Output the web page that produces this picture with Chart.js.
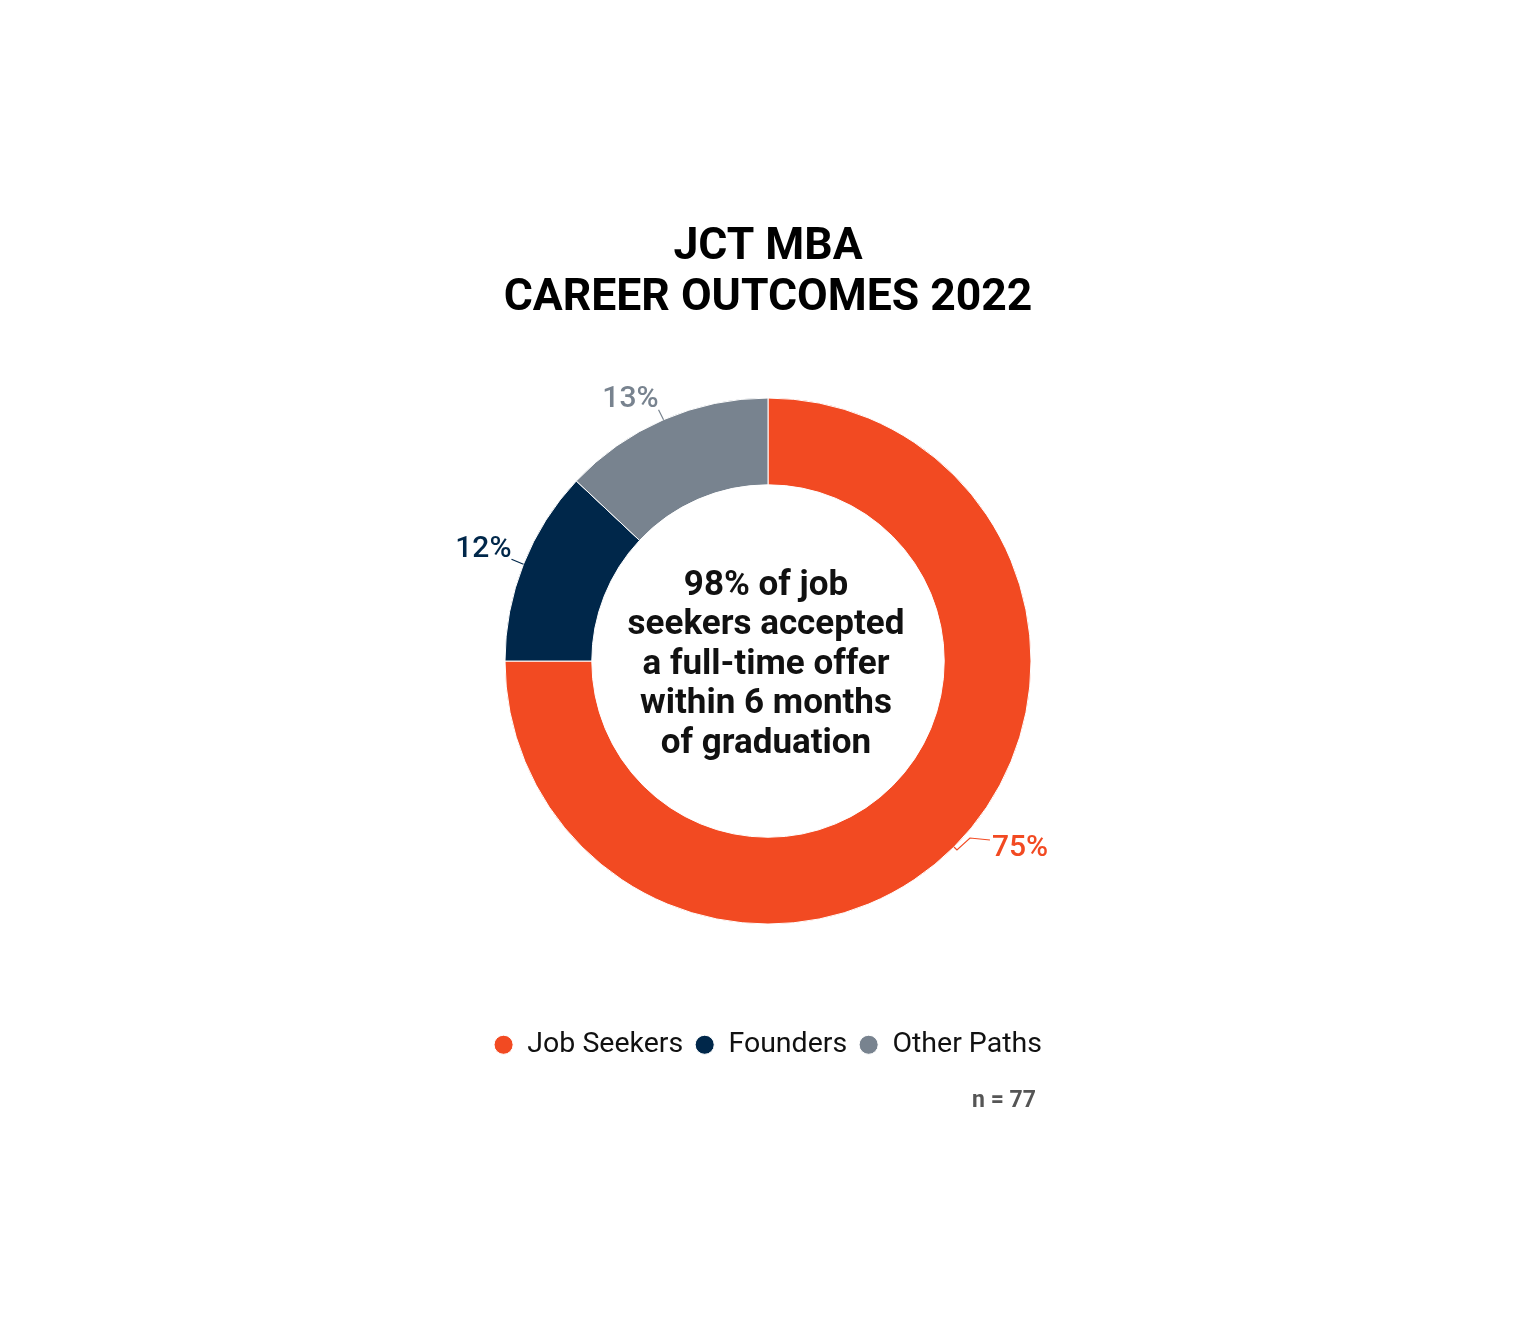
<!DOCTYPE html>
<html lang="en">
<head>
    <meta charset="UTF-8">
    <title>JCT MBA Career Outcomes 2022</title>
    <script src="https://cdn.jsdelivr.net/npm/chart.js@4/dist/chart.umd.min.js"></script>
    <style>
        html, body { margin: 0; padding: 0; background: #fff; }
        #wrap { width: 1536px; height: 1340px; }
    </style>
</head>
<body>
    <div id="wrap"><canvas id="myChart" width="1536" height="1340"></canvas></div>
    <script>
        // data
        const categories = ['Job Seekers', 'Founders', 'Other Paths'];
        const shares = [75, 12, 13];
        const sliceColors = ['#F24A22', '#00274A', '#78838F'];
        const titleLines = ['JCT MBA', 'CAREER OUTCOMES 2022'];
        const centerLines = ['98% of job', 'seekers accepted', 'a full-time offer', 'within 6 months', 'of graduation'];
        const sampleNote = 'n = 77';

        const FONT = 'Roboto, "DejaVu Sans", sans-serif';

        // leader line + label placement per slice (relative to outer edge at mid angle)
        const labelStyle = [
            { path: [[0, 0], [3, 3], [16, -9], [36, -7]], tx: 38, ty: 0, align: 'left' },
            { path: [[0, 0], [-12, -5]], tx: -12, ty: -16, align: 'right' },
            { path: [[0, 0], [-5, -10]], tx: -5, ty: -21, align: 'right' }
        ];

        const annotate = {
            id: 'annotate',
            afterDatasetsDraw(chart) {
                const ctx = chart.ctx;
                const meta = chart.getDatasetMeta(0);
                ctx.save();
                meta.data.forEach((arc, i) => {
                    const p = arc.getProps(['x', 'y', 'startAngle', 'endAngle', 'outerRadius'], true);
                    const mid = (p.startAngle + p.endAngle) / 2;
                    const ex = p.x + Math.cos(mid) * p.outerRadius;
                    const ey = p.y + Math.sin(mid) * p.outerRadius;
                    const st = labelStyle[i];
                    ctx.strokeStyle = sliceColors[i];
                    ctx.lineWidth = 1.2;
                    ctx.beginPath();
                    st.path.forEach((pt, k) => {
                        if (k === 0) ctx.moveTo(ex + pt[0], ey + pt[1]);
                        else ctx.lineTo(ex + pt[0], ey + pt[1]);
                    });
                    ctx.stroke();
                    ctx.fillStyle = sliceColors[i];
                    ctx.font = '500 30px ' + FONT;
                    ctx.textAlign = st.align;
                    ctx.textBaseline = 'middle';
                    ctx.fillText(shares[i] + '%', ex + st.tx, ey + st.ty + 1);
                });

                // center text
                const c = meta.data[0];
                ctx.fillStyle = '#111';
                ctx.font = 'bold 35px ' + FONT;
                ctx.textAlign = 'center';
                ctx.textBaseline = 'middle';
                const lh = 39.5;
                const y0 = c.y + 4 - lh * (centerLines.length - 1) / 2;
                centerLines.forEach((t, k) => ctx.fillText(t, c.x - 2, y0 + k * lh));

                // sample size
                ctx.fillStyle = '#555';
                ctx.font = 'bold 23px ' + FONT;
                ctx.textAlign = 'right';
                ctx.fillText(sampleNote, 1036, 1101);
                ctx.restore();
            }
        };

        const ctx = document.getElementById('myChart').getContext('2d');
        new Chart(ctx, {
            type: 'doughnut',
            data: {
                labels: categories,
                datasets: [{
                    data: shares,
                    backgroundColor: sliceColors,
                    borderColor: '#fff',
                    borderWidth: 1,
                    radius: 263
                }]
            },
            options: {
                responsive: false,
                animation: false,
                cutout: '67%',
                layout: { padding: { bottom: 271 } },
                plugins: {
                    title: {
                        display: true,
                        text: titleLines,
                        color: '#000',
                        font: { family: FONT, size: 44.5, weight: 'bold', lineHeight: 1.13 },
                        padding: { top: 223, bottom: 17 }
                    },
                    legend: {
                        position: 'bottom',
                        title: { display: true, text: ' ', font: { size: 10, lineHeight: 1.2 }, padding: { top: 25, bottom: 0 } },
                        labels: {
                            usePointStyle: true,
                            pointStyle: 'circle',
                            boxWidth: 19,
                            boxHeight: 13.5,
                            padding: 12,
                            color: '#111',
                            font: { family: FONT, size: 28.5 }
                        }
                    },
                    tooltip: { enabled: false }
                }
            },
            plugins: [annotate]
        });
    </script>
</body>
</html>
